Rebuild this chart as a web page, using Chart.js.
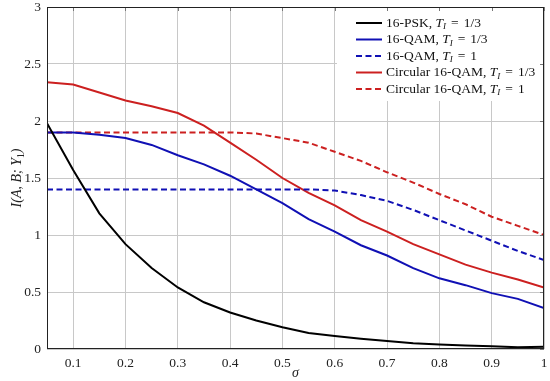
<!DOCTYPE html>
<html>
<head>
<meta charset="utf-8">
<script src="https://cdn.jsdelivr.net/npm/chart.js@4"></script>
<style>
  html, body { margin: 0; padding: 0; background: #fff; }
  #wrap { width: 550px; height: 381px; position: relative; }
</style>
</head>
<body>
<div id="wrap"><canvas id="chart"></canvas></div>
<script>
const sigma = [0.05, 0.1, 0.15, 0.2, 0.25, 0.3, 0.35, 0.4, 0.45, 0.5, 0.55, 0.6, 0.65, 0.7, 0.75, 0.8, 0.85, 0.9, 0.95, 1.0];
const psk13 = [1.98, 1.57, 1.19, 0.92, 0.71, 0.54, 0.41, 0.32, 0.25, 0.19, 0.14, 0.115, 0.09, 0.07, 0.05, 0.04, 0.03, 0.025, 0.015, 0.02];
const qam13 = [1.9, 1.9, 1.88, 1.85, 1.79, 1.7, 1.62, 1.52, 1.4, 1.28, 1.14, 1.03, 0.91, 0.82, 0.71, 0.62, 0.56, 0.49, 0.44, 0.36];
const qam1 = [1.4, 1.4, 1.4, 1.4, 1.4, 1.4, 1.4, 1.4, 1.4, 1.4, 1.4, 1.39, 1.35, 1.3, 1.22, 1.13, 1.04, 0.95, 0.86, 0.78];
const circ13 = [2.34, 2.32, 2.25, 2.18, 2.13, 2.07, 1.96, 1.81, 1.66, 1.5, 1.37, 1.26, 1.13, 1.03, 0.92, 0.83, 0.74, 0.67, 0.61, 0.54];
const circ1 = [1.9, 1.9, 1.9, 1.9, 1.9, 1.9, 1.9, 1.9, 1.89, 1.85, 1.81, 1.73, 1.65, 1.55, 1.46, 1.36, 1.27, 1.16, 1.08, 1.0];
const xTicks = [0.1, 0.2, 0.3, 0.4, 0.5, 0.6, 0.7, 0.8, 0.9, 1];
const yTicks = [0, 0.5, 1, 1.5, 2, 2.5, 3];

// legend entries: [prefix, value]
const legendText = [
  ['16-PSK, ', '1/3'],
  ['16-QAM, ', '1/3'],
  ['16-QAM, ', '1'],
  ['Circular 16-QAM, ', '1/3'],
  ['Circular 16-QAM, ', '1']
];

const BLACK = '#000000';
const BLUE = '#1010b4';
const RED = '#cc2020';
const SERIF = '"Liberation Serif", "DejaVu Serif", serif';

const pts = arr => arr.map((v, i) => ({ x: sigma[i], y: v }));

function ds(data, color, dashed) {
  return {
    data: pts(data),
    borderColor: color,
    borderWidth: 2,
    borderDash: dashed ? [6, 3.5] : [],
    pointRadius: 0,
    tension: 0,
    fill: false
  };
}

const frameAndLabels = {
  id: 'frameAndLabels',
  afterDatasetsDraw(chart) {
    const { ctx, chartArea: a, scales } = chart;
    ctx.save();

    // legend box (white, no border)
    const bx = 337, by = a.top + 1, bw = a.right - bx - 1, bh = 93;
    ctx.fillStyle = '#fff';
    ctx.fillRect(bx, by, bw, bh);

    // inner tick marks on top and right
    ctx.strokeStyle = '#777';
    ctx.lineWidth = 1;
    xTicks.forEach(v => {
      const x = Math.round(scales.x.getPixelForValue(v)) + 0.5;
      ctx.beginPath(); ctx.moveTo(x, a.top); ctx.lineTo(x, a.top + 4); ctx.stroke();
    });
    yTicks.forEach(v => {
      const y = Math.round(scales.y.getPixelForValue(v)) + 0.5;
      ctx.beginPath(); ctx.moveTo(a.right, y); ctx.lineTo(a.right - 4, y); ctx.stroke();
    });

    ctx.strokeStyle = '#222';
    ctx.strokeRect(a.left + 0.5, a.top + 0.5, a.right - a.left - 1, a.bottom - a.top - 1);

    chart.data.datasets.forEach((d, i) => {
      const y = a.top + 16 + i * 16.5;
      ctx.beginPath();
      ctx.strokeStyle = d.borderColor;
      ctx.lineWidth = 2;
      ctx.setLineDash(d.borderDash);
      ctx.moveTo(356, y);
      ctx.lineTo(382, y);
      ctx.stroke();
      ctx.setLineDash([]);
      let x = 386;
      ctx.fillStyle = '#111';
      ctx.textBaseline = 'middle';
      ctx.textAlign = 'left';
      ctx.font = '13.5px ' + SERIF;
      ctx.fillText(legendText[i][0], x, y);
      x += ctx.measureText(legendText[i][0]).width;
      ctx.font = 'italic 13.5px ' + SERIF;
      ctx.fillText('T', x, y);
      x += ctx.measureText('T').width;
      ctx.font = 'italic 9px ' + SERIF;
      ctx.fillText('I', x, y + 4);
      x += ctx.measureText('I').width + 5;
      ctx.font = '13.5px ' + SERIF;
      ctx.fillText('=', x, y);
      x += ctx.measureText('=').width + 5;
      ctx.fillText(legendText[i][1], x, y);
    });

    // axis titles
    ctx.fillStyle = '#222';
    ctx.textAlign = 'center';
    ctx.textBaseline = 'middle';
    ctx.font = 'italic 14px ' + SERIF;
    ctx.fillText('σ', (a.left + a.right) / 2, 373);

    ctx.translate(17, (a.top + a.bottom) / 2);
    ctx.rotate(-Math.PI / 2);
    const parts = [['I(A, B; Y', 'italic 14px '], ['1', '9.5px '], [')', 'italic 14px ']];
    let total = 0;
    parts.forEach(p => { ctx.font = p[1] + SERIF; total += ctx.measureText(p[0]).width; });
    let x = -total / 2;
    ctx.textAlign = 'left';
    parts.forEach(p => {
      ctx.font = p[1] + SERIF;
      ctx.fillText(p[0], x, p[0] === '1' ? 4 : 0);
      x += ctx.measureText(p[0]).width;
    });
    ctx.restore();
  }
};

new Chart(document.getElementById('chart'), {
  type: 'line',
  data: {
    datasets: [
      ds(psk13, BLACK, false),
      ds(qam13, BLUE, false),
      ds(qam1, BLUE, true),
      ds(circ13, RED, false),
      ds(circ1, RED, true)
    ]
  },
  options: {
    responsive: true,
    maintainAspectRatio: false,
    animation: false,
    layout: { padding: { top: 7, right: 6, left: 0, bottom: 0 } },
    plugins: { legend: { display: false }, tooltip: { enabled: false } },
    scales: {
      x: {
        type: 'linear',
        min: 0.05,
        max: 1,
        afterBuildTicks: s => { s.ticks = xTicks.map(v => ({ value: v })); },
        afterFit: s => { s.height = 32; s.paddingLeft = 0; s.paddingRight = 0; },
        grid: { color: '#c8c8c8', lineWidth: 1, drawTicks: false },
        border: { display: false },
        ticks: {
          color: '#222',
          font: { family: SERIF, size: 13.5 },
          padding: 6,
          maxRotation: 0,
          callback: v => String(v)
        }
      },
      y: {
        min: 0,
        max: 3,
        afterBuildTicks: s => { s.ticks = yTicks.map(v => ({ value: v })); },
        afterFit: s => { s.width = 47; s.paddingTop = 0; s.paddingBottom = 0; },
        grid: { color: '#c8c8c8', lineWidth: 1, drawTicks: false },
        border: { display: false },
        ticks: {
          color: '#222',
          font: { family: SERIF, size: 13.5 },
          padding: 6,
          callback: v => String(v)
        }
      }
    }
  },
  plugins: [frameAndLabels]
});
</script>
</body>
</html>
